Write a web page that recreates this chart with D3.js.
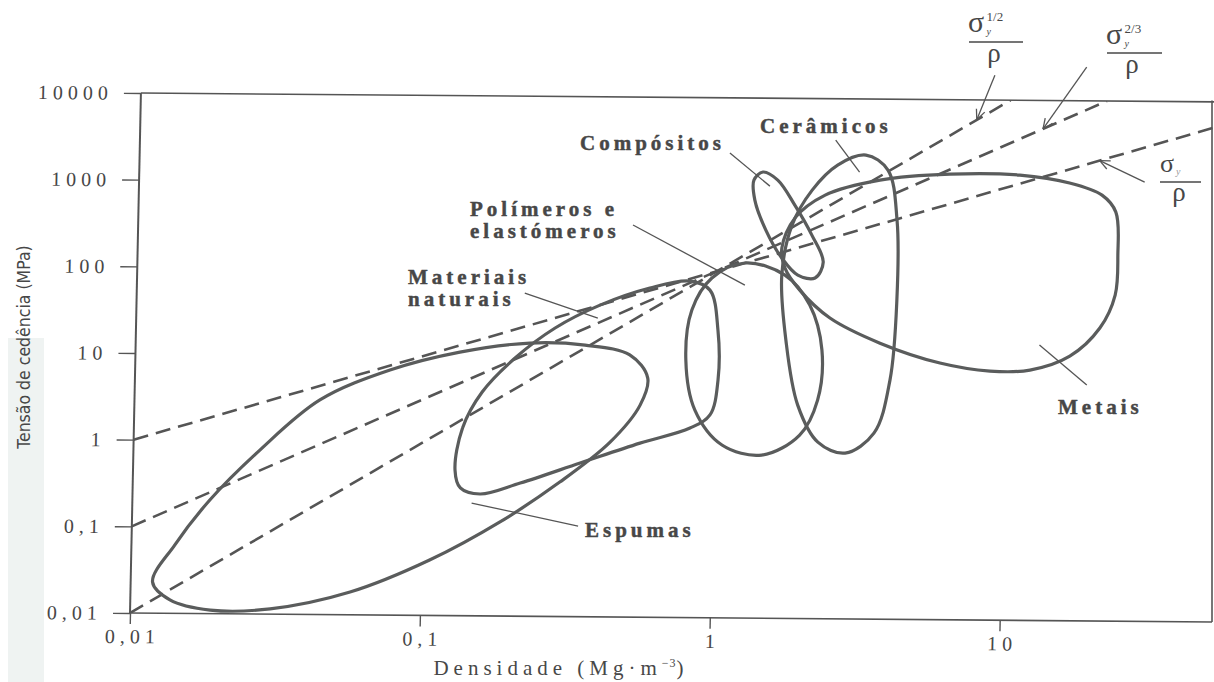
<!DOCTYPE html>
<html>
<head>
<meta charset="utf-8">
<script src="https://cdn.jsdelivr.net/npm/d3@7"></script>
<style>
  body { margin: 0; background: #fff; }
  svg { display: block; }
</style>
</head>
<body>
<svg id="chart" width="1214" height="682"></svg>
<script>
// ---- axis ticks ----
const xTickValues = [0.01, 0.1, 1, 10];
const xTickLabels = ["0,01", "0,1", "1", "10"];
const yTickValues = [0.01, 0.1, 1, 10, 100, 1000, 10000];
const yTickLabels = ["0,01", "0,1", "1", "10", "100", "1000", "10000"];

// ---- material envelopes: [density (Mg/m3), yield strength (MPa)] ----
const espumas = [
  [0.0119, 0.0229], [0.0141, 0.0614], [0.0185, 0.205], [0.0273, 0.780], [0.0436, 2.99],
  [0.0757, 6.73], [0.1315, 11.0], [0.229, 14.2], [0.355, 13.6], [0.507, 10.6],
  [0.587, 5.75], [0.555, 2.80], [0.440, 1.04], [0.297, 0.356], [0.186, 0.122],
  [0.107, 0.0436], [0.0572, 0.0183], [0.0304, 0.0115], [0.0189, 0.0110], [0.0137, 0.0143]
];
const naturais = [
  [0.129, 0.479], [0.136, 1.47], [0.158, 3.83], [0.204, 9.51], [0.279, 21.3],
  [0.397, 39.5], [0.588, 62.9], [0.807, 76.3], [0.948, 60.3], [1.017, 20.9],
  [1.026, 5.54], [0.968, 2.19], [0.828, 1.54], [0.558, 1.02], [0.348, 0.593],
  [0.217, 0.344], [0.158, 0.255], [0.135, 0.298]
];
const polimeros = [
  [1.246, 125], [1.716, 91.4], [2.10, 41.4], [2.33, 12.6], [2.27, 3.33], [1.98, 1.31],
  [1.47, 0.763], [1.07, 0.988], [0.858, 2.48], [0.792, 9.36], [0.824, 35.4], [0.961, 83.2]
];
const compositos = [
  [1.416, 1406], [1.595, 1138], [1.834, 588], [2.11, 266], [2.32, 130], [2.18, 85.1],
  [1.90, 91.6], [1.668, 144], [1.463, 301], [1.334, 666], [1.320, 1132]
];
const ceramicos = [
  [3.20, 2256], [3.82, 1523], [4.14, 404], [4.19, 48.2], [4.02, 5.75], [3.57, 1.40],
  [2.85, 0.819], [2.29, 1.09], [1.94, 2.90], [1.747, 16.3], [1.673, 91.2], [1.80, 345],
  [2.10, 879], [2.56, 1718]
];
const metais = [
  [1.666, 187], [1.838, 416], [2.33, 772], [3.59, 1164], [6.26, 1385], [10.9, 1371],
  [16.2, 1122], [21.0, 820], [23.5, 524], [24.05, 167], [23.7, 57.8], [21.1, 24.0],
  [16.7, 11.3], [12.2, 7.74], [8.88, 7.47], [5.96, 9.15], [3.69, 15.3], [2.47, 29.5],
  [1.935, 61.5], [1.714, 110]
];

// ---- performance-index guide lines (end points in data units) ----
const guideSigmaRho = [[0.01, 1], [54, 5400]];          // sigma_y / rho
const guideSigma23Rho = [[0.01, 0.1], [21.5, 10000]];   // sigma_y^(2/3) / rho
const guideSigma12Rho = [[0.01, 0.01], [10, 10000]];    // sigma_y^(1/2) / rho

// ---- family names and leader lines (leader ends in data units) ----
const familyNames = ["Compósitos", "Cerâmicos", ["Polímeros e", "elastómeros"],
  ["Materiais", "naturais"], "Espumas", "Metais"];
const leaderLines = [
  [[1.086, 2307], [1.50, 968]],
  [[2.51, 3340], [3.05, 1435]],
  [[0.509, 334], [1.25, 69.5]],
  [[0.218, 53.6], [0.391, 28.0]],
  [[0.148, 0.200], [0.346, 0.111]],
  [[13.1, 15.1], [19.2, 5.26]]
];
// arrows from each index label down onto its guide line (data units)
const indexArrows = [
  [[8.79, 19400], [7.67, 5900]],
  [[18.2, 24500], [13.0, 4690]],
  [[29.4, 1170], [20.5, 2050]]
];

// ---------------------------------------------------------------
const X0 = 130, X1 = 1212, Y0 = 613, Y1 = 93;
const ink = "#474747";
const curveInk = "#5a5c5c";
const serif = "'Liberation Serif', 'Times New Roman', serif";

const svg = d3.select("#chart");

// faint tinted strip along the left margin of the page
svg.append("rect").attr("x", 8).attr("y", 338).attr("width", 36).attr("height", 344)
  .attr("fill", "#eff3f2");

const x = d3.scaleLog().domain([0.01, 54]).range([X0, X1]);
const y = d3.scaleLog().domain([0.01, 10000]).range([Y0, Y1]);

svg.append("defs").append("clipPath").attr("id", "plotClip")
  .append("rect").attr("x", X0).attr("y", Y1).attr("width", X1 - X0).attr("height", Y0 - Y1);

// the printed plot sits slightly skewed on the page
const plot = svg.append("g")
  .attr("transform", `matrix(1,0.0083,-0.021,1,${(0.021 * Y0).toFixed(3)},${(-0.0083 * X0).toFixed(3)})`);

// minor tick positions inside each decade
const decadeMinor = (lo, hi) => {
  const out = [];
  for (let d = lo; d < hi; d *= 10) for (let k = 2; k <= 9; k++) if (d * k <= hi) out.push(d * k);
  return out;
};

// ---- y axis ----
const gy = plot.append("g").attr("transform", `translate(${X0},0)`);
gy.call(d3.axisLeft(y).tickValues(decadeMinor(0.01, 10000)).tickSize(11).tickFormat(""));
gy.call(d3.axisLeft(y).tickValues(yTickValues).tickSize(17).tickPadding(11)
  .tickFormat((d, i) => yTickLabels[i]));
gy.selectAll(".domain").remove();
gy.selectAll("line").attr("stroke", "#555").attr("stroke-width", 1.4);
gy.selectAll("text").attr("font-family", serif).attr("font-size", 20)
  .attr("letter-spacing", "5px").attr("fill", ink);

// ---- x axis ----
const gx = plot.append("g").attr("transform", `translate(0,${Y0})`);
gx.call(d3.axisBottom(x).tickValues(decadeMinor(0.01, 54)).tickSize(6).tickFormat(""));
gx.call(d3.axisBottom(x).tickValues(xTickValues).tickSize(11).tickPadding(5)
  .tickFormat((d, i) => xTickLabels[i]));
gx.selectAll(".domain").remove();
gx.selectAll("line").attr("stroke", "#555").attr("stroke-width", 1.4);
gx.selectAll("text").attr("font-family", serif).attr("font-size", 20)
  .attr("letter-spacing", "5px").attr("dx", "2.5px").attr("fill", ink);

// ---- frame ----
plot.append("line").attr("x1", X0).attr("x2", X0).attr("y1", Y1).attr("y2", Y0)
  .attr("stroke", "#555").attr("stroke-width", 2);
plot.append("line").attr("x1", X0).attr("x2", X1).attr("y1", Y0).attr("y2", Y0)
  .attr("stroke", "#555").attr("stroke-width", 1.6);
plot.append("line").attr("x1", X0).attr("x2", X1 + 12).attr("y1", Y1).attr("y2", Y1)
  .attr("stroke", "#555").attr("stroke-width", 1.6);
// right border runs straight down the page edge
svg.append("line").attr("x1", 1212).attr("x2", 1212).attr("y1", 100.5).attr("y2", 622)
  .attr("stroke", "#555").attr("stroke-width", 1.6);

// ---- guide lines ----
const line = d3.line().x(d => x(d[0])).y(d => y(d[1]));
const gGuide = plot.append("g").attr("clip-path", "url(#plotClip)");
[guideSigmaRho, guideSigma23Rho, guideSigma12Rho].forEach(g => {
  gGuide.append("path").attr("d", line(g)).attr("fill", "none")
    .attr("stroke", "#555").attr("stroke-width", 2.6).attr("stroke-dasharray", "15,8");
});

// ---- envelopes ----
const closed = d3.line().x(d => x(d[0])).y(d => y(d[1]))
  .curve(d3.curveCatmullRomClosed.alpha(0.5));
[espumas, naturais, polimeros, compositos, ceramicos, metais].forEach(env => {
  plot.append("path").attr("d", closed(env)).attr("fill", "none")
    .attr("stroke", curveInk).attr("stroke-width", 3.2).attr("stroke-linejoin", "round");
});

// ---- leader lines ----
leaderLines.forEach(l => {
  plot.append("path").attr("d", line(l)).attr("fill", "none")
    .attr("stroke", "#555").attr("stroke-width", 1.3);
});

// ---- index arrows ----
function arrow(p0, p1) {
  const a = [x(p0[0]), y(p0[1])], b = [x(p1[0]), y(p1[1])];
  const ang = Math.atan2(b[1] - a[1], b[0] - a[0]);
  const g = plot.append("g").attr("stroke", "#555").attr("stroke-width", 1.3).attr("fill", "none");
  g.append("line").attr("x1", a[0]).attr("y1", a[1]).attr("x2", b[0]).attr("y2", b[1]);
  [0.42, -0.42].forEach(da => {
    g.append("line").attr("x1", b[0]).attr("y1", b[1])
      .attr("x2", b[0] - 11 * Math.cos(ang + da)).attr("y2", b[1] - 11 * Math.sin(ang + da));
  });
}
indexArrows.forEach(a => arrow(a[0], a[1]));

// ---- axis titles ----
const xt = svg.append("text").attr("x", 561).attr("y", 675).attr("text-anchor", "middle")
  .attr("font-family", serif).attr("font-size", 21).attr("letter-spacing", "5px")
  .attr("fill", ink);
xt.append("tspan").text("Densidade (Mg·m");
xt.append("tspan").attr("font-size", 12).attr("dy", -8).attr("letter-spacing", "1px").text("−3");
xt.append("tspan").attr("dy", 8).text(")");

svg.append("text")
  .attr("transform", "translate(30,347) rotate(-90)")
  .attr("text-anchor", "middle")
  .attr("font-family", "'Liberation Sans Narrow', 'DejaVu Sans Condensed', sans-serif")
  .attr("font-size", 17.5).attr("fill", ink)
  .text("Tensão de cedência (MPa)");

// ---- family labels ----
const labelPos = [[580, 150], [760, 133], [470, 216], [408, 284], [585, 537], [1058, 414]];
familyNames.forEach((name, i) => {
  const lines = Array.isArray(name) ? name : [name];
  lines.forEach((s, j) => {
    svg.append("text").attr("x", labelPos[i][0]).attr("y", labelPos[i][1] + j * 22)
      .attr("font-family", serif).attr("font-weight", "bold").attr("font-size", 21)
      .attr("letter-spacing", "4px").attr("fill", ink)
      .attr("stroke", ink).attr("stroke-width", 0.45)
      .text(s);
  });
});

// ---- index labels: sigma_y^n over rho ----
function indexLabel(o) {
  const g = svg.append("g").attr("fill", ink).attr("font-family", serif);
  g.append("text").attr("x", o.sx).attr("y", o.sy).attr("font-size", o.sz).text("σ");
  if (o.sup) g.append("text").attr("x", o.sx + o.sz * 0.62).attr("y", o.sy - 11)
    .attr("font-size", 13).text(o.sup);
  g.append("text").attr("x", o.sx + o.sz * 0.62).attr("y", o.sy + 3).attr("font-size", 10)
    .attr("font-style", "italic").attr("fill", o.faint ? "#9a9a9a" : ink).text("y");
  g.append("line").attr("x1", o.b0).attr("x2", o.b1).attr("y1", o.by).attr("y2", o.by)
    .attr("stroke", ink).attr("stroke-width", 1.6);
  g.append("text").attr("x", o.rx).attr("y", o.ry).attr("text-anchor", "middle")
    .attr("font-size", 27).text("ρ");
}
indexLabel({ sx: 968, sy: 32, sz: 30, sup: "1/2", b0: 969, b1: 1023, by: 42, rx: 994, ry: 62 });
indexLabel({ sx: 1106, sy: 44, sz: 30, sup: "2/3", b0: 1107, b1: 1162, by: 53, rx: 1132, ry: 73 });
indexLabel({ sx: 1160, sy: 172, sz: 26, sup: null, faint: true, b0: 1160, b1: 1201, by: 182, rx: 1179, ry: 201 });
</script>
</body>
</html>
